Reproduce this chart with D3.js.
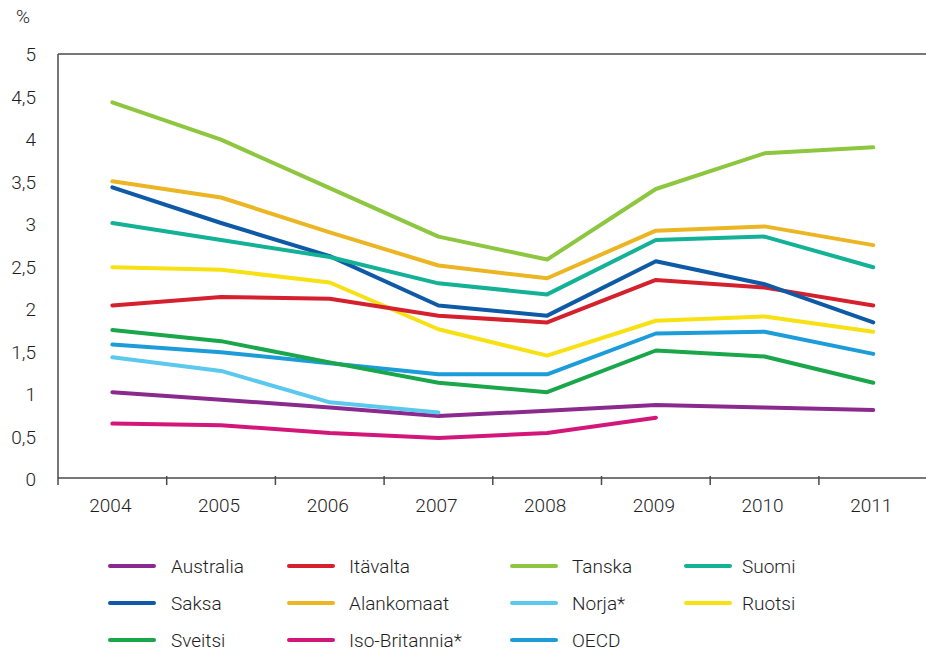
<!DOCTYPE html>
<html>
<head>
<meta charset="utf-8">
<script src="https://cdn.jsdelivr.net/npm/d3@7"></script>
<style>
  html, body { margin: 0; padding: 0; background: #fff; }
  svg text { font-family: Roboto, "Liberation Sans", Arial, sans-serif; font-weight: 300; fill: #1e1e1e; }
</style>
</head>
<body>
<svg id="chart" width="926" height="653"></svg>
<script>
// Years on the category axis
const years = ["2004", "2005", "2006", "2007", "2008", "2009", "2010", "2011"];
const yTicks = [0, 0.5, 1, 1.5, 2, 2.5, 3, 3.5, 4, 4.5, 5];

// Series values, percent (null = no data)
const australia    = [1.01, 0.92, 0.83, 0.73, 0.79, 0.86, 0.83, 0.80];
const itavalta     = [2.03, 2.13, 2.11, 1.91, 1.83, 2.33, 2.24, 2.03];
const tanska       = [4.42, 3.98, 3.41, 2.84, 2.57, 3.40, 3.82, 3.89];
const suomi        = [3.00, 2.80, 2.60, 2.29, 2.16, 2.80, 2.84, 2.48];
const saksa        = [3.42, 3.00, 2.61, 2.03, 1.91, 2.55, 2.28, 1.83];
const alankomaat   = [3.49, 3.30, 2.89, 2.50, 2.35, 2.91, 2.96, 2.74];
const norja        = [1.42, 1.26, 0.89, 0.77, null, null, null, null];
const ruotsi       = [2.48, 2.45, 2.30, 1.75, 1.44, 1.85, 1.90, 1.72];
const sveitsi      = [1.74, 1.61, 1.36, 1.12, 1.01, 1.50, 1.43, 1.12];
const isoBritannia = [0.64, 0.62, 0.53, 0.47, 0.53, 0.71, null, null];
const oecd         = [1.57, 1.48, 1.35, 1.22, 1.22, 1.70, 1.72, 1.46];

const seriesNames  = ["Australia", "Itävalta", "Tanska", "Suomi", "Saksa", "Alankomaat",
                      "Norja*", "Ruotsi", "Sveitsi", "Iso-Britannia*", "OECD"];
const seriesValues = [australia, itavalta, tanska, suomi, saksa, alankomaat,
                      norja, ruotsi, sveitsi, isoBritannia, oecd];
const seriesColors = ["#8b2a8e", "#d5202e", "#8dc63f", "#13b195", "#0e5aa7", "#ebb523",
                      "#5bc8ee", "#f7e113", "#1aa64a", "#d3177a", "#1c9cd8"];
// Draw order (back to front)
const drawOrder = [0, 9, 6, 10, 8, 7, 1, 4, 3, 5, 2];

const svg = d3.select("#chart");
const plotLeft = 58, plotTop = 54, plotBottom = 478;
const step = 108.7;
const fontSize = 19;

const x = d3.scaleBand().domain(years).range([plotLeft, plotLeft + step * years.length]).padding(0);
const y = d3.scaleLinear().domain([0, 5]).range([plotBottom, plotTop - 1]);

const axisColor = "#4a4a4a";

// Frame: top rule and left axis
svg.append("line").attr("x1", plotLeft).attr("x2", 926).attr("y1", plotTop).attr("y2", plotTop)
  .attr("stroke", axisColor).attr("stroke-width", 1.5);
svg.append("line").attr("x1", plotLeft).attr("x2", plotLeft).attr("y1", plotTop).attr("y2", plotBottom + 7)
  .attr("stroke", axisColor).attr("stroke-width", 1.5);

// Bottom axis: baseline, ticks between categories, labels centred on bands
svg.append("line").attr("x1", plotLeft).attr("x2", 926).attr("y1", plotBottom).attr("y2", plotBottom)
  .attr("stroke", axisColor).attr("stroke-width", 1.5);
svg.selectAll(".xtick").data(years.slice(1)).enter().append("line")
  .attr("x1", d => x(d)).attr("x2", d => x(d))
  .attr("y1", plotBottom - 2).attr("y2", plotBottom + 7)
  .attr("stroke", axisColor).attr("stroke-width", 1.5);
svg.selectAll(".xlab").data(years).enter().append("text")
  .attr("x", d => x(d) + x.bandwidth() / 2 - 2).attr("y", 512)
  .attr("text-anchor", "middle").attr("font-size", fontSize).text(d => d);

// Left axis labels
svg.selectAll(".ylab").data(yTicks).enter().append("text")
  .attr("x", 36).attr("y", d => y(d) + 8)
  .attr("text-anchor", "end").attr("font-size", fontSize)
  .text(d => String(d).replace(".", ","));
svg.append("text").attr("x", 16).attr("y", 23).attr("font-size", fontSize).text("%");

// Lines
const line = d3.line()
  .defined(d => d.v !== null)
  .x(d => x(d.year) + x.bandwidth() / 2)
  .y(d => y(d.v));

drawOrder.forEach(i => {
  const pts = years.map((yr, j) => ({ year: yr, v: seriesValues[i][j] }));
  svg.append("path").datum(pts)
    .attr("d", line)
    .attr("fill", "none")
    .attr("stroke", seriesColors[i])
    .attr("stroke-width", 4)
    .attr("stroke-linejoin", "round")
    .attr("stroke-linecap", "round");
});

// Legend: 4 columns, 3 rows
const colLine = [110, 289, 512, 686];
const colText = [171, 349, 572, 742];
const rowY = [566, 603, 640];
seriesNames.forEach((name, i) => {
  const c = i % 4, r = Math.floor(i / 4);
  svg.append("line")
    .attr("x1", colLine[c]).attr("x2", colLine[c] + 44)
    .attr("y1", rowY[r]).attr("y2", rowY[r])
    .attr("stroke", seriesColors[i]).attr("stroke-width", 4)
    .attr("stroke-linecap", "round");
  svg.append("text").attr("x", colText[c]).attr("y", rowY[r] + 7)
    .attr("font-size", fontSize).text(name);
});
</script>
</body>
</html>
